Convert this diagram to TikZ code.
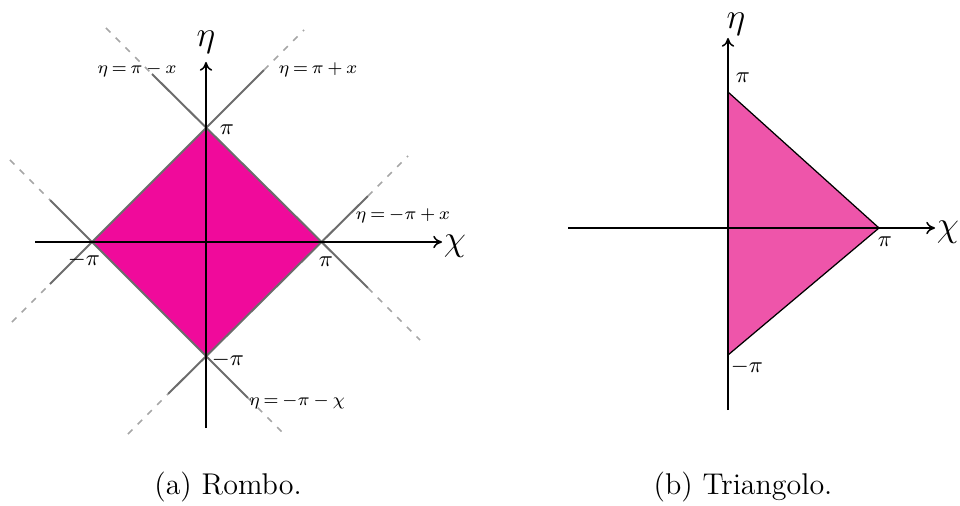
\documentclass[tikz,border=0pt]{standalone}
\usepackage{tikz}
\usetikzlibrary{arrows.meta}
\definecolor{rombo}{RGB}{240,10,155}
\definecolor{triang}{RGB}{238,85,170}

\begin{document}
\begin{tikzpicture}[
      x=0.4pt, y=-0.4pt,
      axis/.style={-{To[length=3.5pt, width=5pt]}, line width=0.6pt},
      guide/.style={gray!85!black, line width=0.8pt},
      guidedash/.style={gray!70, line width=0.6pt, dash pattern=on 2.5pt off 3pt},
      eq/.style={font=\fontsize{7.5}{8}\selectfont, inner sep=1pt},
      tick/.style={font=\fontsize{9}{10}\selectfont, inner sep=1pt},
      axlab/.style={font=\fontsize{14}{16}\selectfont, inner sep=0pt},
      capt/.style={font=\fontsize{12}{14}\selectfont}
    ]
    \useasboundingbox (0,0) rectangle (960,506);

    % (a) rombo
    \coordinate (al) at (92,242);
    \coordinate (ar) at (322,242);
    \coordinate (at) at (206,128);
    \coordinate (ab) at (206,356);
    \fill[rombo] (at) -- (ar) -- (ab) -- (al) -- cycle;

    \coordinate (ppxA) at (12,322);  \coordinate (ppxa) at (50,284);
    \coordinate (ppxb) at (264,70);  \coordinate (ppxB) at (304,30);
    \coordinate (pmxA) at (106,28);  \coordinate (pmxa) at (152,74);
    \coordinate (pmxb) at (368,288); \coordinate (pmxB) at (420,340);
    \coordinate (mpxA) at (128,434); \coordinate (mpxa) at (168,394);
    \coordinate (mpxb) at (368,196); \coordinate (mpxB) at (408,156);
    \coordinate (mmxA) at (10,160);  \coordinate (mmxa) at (50,200);
    \coordinate (mmxb) at (248,398); \coordinate (mmxB) at (285,435);

    \draw[guide] (ppxa) -- (ppxb);
    \draw[guide] (pmxa) -- (pmxb);
    \draw[guide] (mpxa) -- (mpxb);
    \draw[guide] (mmxa) -- (mmxb);
    \draw[guidedash] (ppxA) -- (ppxa) (ppxb) -- (ppxB);
    \draw[guidedash] (pmxA) -- (pmxa) (pmxb) -- (pmxB);
    \draw[guidedash] (mpxA) -- (mpxa) (mpxb) -- (mpxB);
    \draw[guidedash] (mmxA) -- (mmxa) (mmxb) -- (mmxB);

    \coordinate (axs) at (35,242);
    \coordinate (axe) at (442,242);
    \coordinate (ays) at (206,428);
    \coordinate (aye) at (206,62);
    \draw[axis] (axs) -- (axe);
    \draw[axis] (ays) -- (aye);

    \node[axlab] at (455,246) (achi) {$\chi$};
    \node[axlab] at (206,42) (aeta) {$\eta$};
    \node[tick] at (227,130) (atpi) {$\pi$};
    \node[tick] at (84,260) (alpi) {$-\pi$};
    \node[tick] at (326,262) (arpi) {$\pi$};
    \node[tick] at (228,360) (abpi) {$-\pi$};
    \node[eq] at (137,70) (pmxlab) {$\eta\,{=}\,\pi\,{-}\,x$};
    \node[eq] at (318,70) (ppxlab) {$\eta\,{=}\,\pi\,{+}\,x$};
    \node[eq] at (403,216) (mpxlab) {$\eta\,{=}\,{-}\pi\,{+}\,x$};
    \node[eq] at (297,402) (mmxlab) {$\eta\,{=}\,{-}\pi\,{-}\,\chi$};

    % (b) triangolo
    \coordinate (br) at (879,228);
    \coordinate (bt) at (728,92);
    \coordinate (bb) at (728,355);
    \filldraw[fill=triang, draw=black, line width=0.5pt] (bt) -- (br) -- (bb) -- cycle;

    \coordinate (bxs) at (568,228);
    \coordinate (bxe) at (935,228);
    \coordinate (bys) at (728,410);
    \coordinate (bye) at (728,38);
    \draw[axis] (bxs) -- (bxe);
    \draw[axis] (bys) -- (bye);

    \node[axlab] at (948,232) (bchi) {$\chi$};
    \node[axlab] at (736,24) (beta) {$\eta$};
    \node[tick] at (743,78) (btpi) {$\pi$};
    \node[tick] at (885,242) (brpi) {$\pi$};
    \node[tick] at (747,367) (bbpi) {$-\pi$};

    \node[capt] at (228,487) (capa) {(a) Rombo.};
    \node[capt] at (743,487) (capb) {(b) Triangolo.};
  \end{tikzpicture}
\end{document}
